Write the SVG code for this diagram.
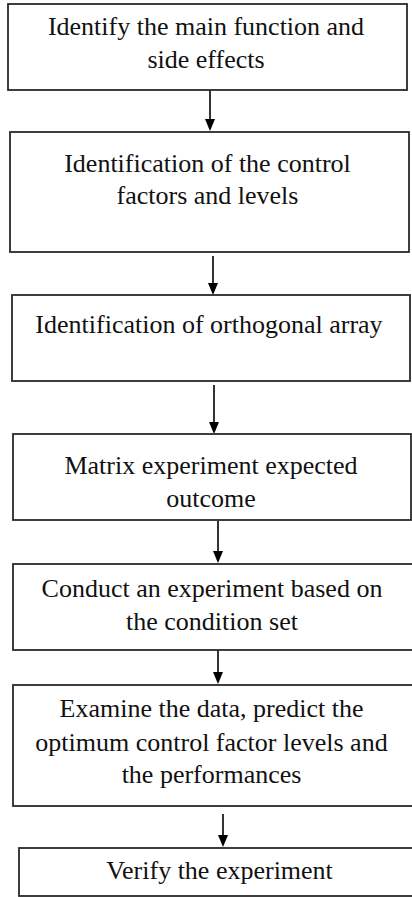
<svg xmlns="http://www.w3.org/2000/svg" width="412" height="897" viewBox="0 0 412 897">
<style>
.box{fill:#fff;stroke:#2a2a2a;stroke-width:1.8}
.t{font-family:'Liberation Serif','Times New Roman',Times,'DejaVu Serif',serif;font-size:26px;fill:#111;text-anchor:middle}
.c{stroke:#000;stroke-width:1.6;fill:none}
.h{fill:#000}
</style>
<rect width="412" height="897" fill="#fff"/>
<g id="connectors">
<line class="c" x1="210" y1="90" x2="210" y2="120"/><polygon class="h" points="205,119 215,119 210,131"/>
<line class="c" x1="213" y1="256" x2="213" y2="284"/><polygon class="h" points="208,283 218,283 213,295"/>
<line class="c" x1="214" y1="385" x2="214" y2="423"/><polygon class="h" points="209,422 219,422 214,434"/>
<line class="c" x1="218" y1="521" x2="218" y2="552"/><polygon class="h" points="213,551 223,551 218,563"/>
<line class="c" x1="218" y1="650" x2="218" y2="673"/><polygon class="h" points="213,672 223,672 218,684"/>
<line class="c" x1="223" y1="814" x2="223" y2="836"/><polygon class="h" points="218,835 228,835 223,847"/>
</g>
<g font-family="Liberation Serif, serif">
<g id="n1"><rect class="box" x="8" y="4" width="399" height="86"/>
<text class="t" x="206" y="35">Identify the main function and</text>
<text class="t" x="206" y="68">side effects</text></g>
<g id="n2"><rect class="box" x="10" y="132" width="399" height="120"/>
<text class="t" x="207.5" y="172">Identification of the control</text>
<text class="t" x="207.5" y="204">factors and levels</text></g>
<g id="n3"><rect class="box" x="12" y="295" width="398" height="86"/>
<text class="t" x="209" y="333">Identification of orthogonal array</text></g>
<g id="n4"><rect class="box" x="13" y="434" width="398" height="86"/>
<text class="t" x="211" y="474">Matrix experiment expected</text>
<text class="t" x="211" y="507">outcome</text></g>
<g id="n5"><rect class="box" x="13" y="564" width="402" height="86"/>
<text class="t" x="212" y="597">Conduct an experiment based on</text>
<text class="t" x="212" y="630">the condition set</text></g>
<g id="n6"><rect class="box" x="13" y="685" width="402" height="121"/>
<text class="t" x="211.5" y="717">Examine the data, predict the</text>
<text class="t" x="211.5" y="751">optimum control factor levels and</text>
<text class="t" x="211.5" y="783">the performances</text></g>
<g id="n7"><rect class="box" x="19" y="848" width="396" height="48"/>
<text class="t" x="219.5" y="879">Verify the experiment</text></g>
</g>
</svg>
